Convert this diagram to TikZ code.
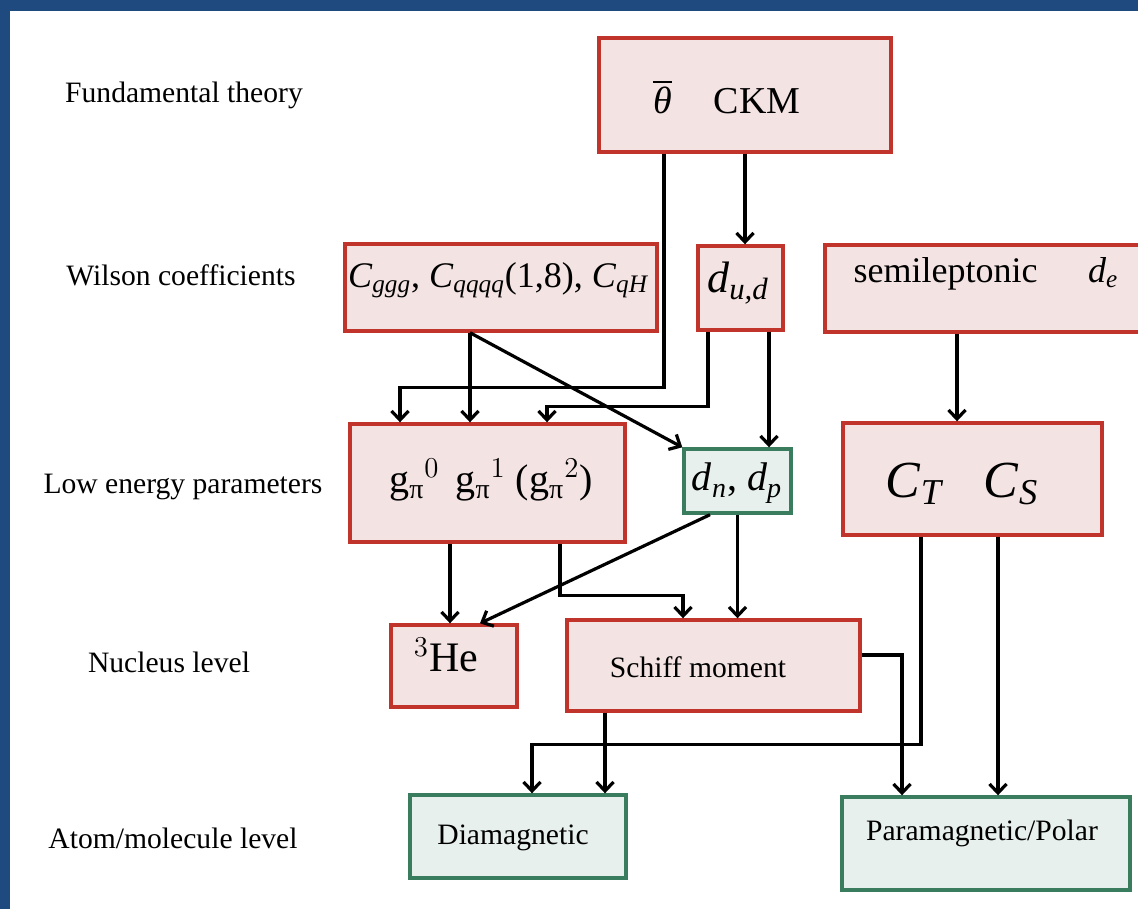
\documentclass[tikz,border=0pt]{standalone}
\usepackage{fontspec}
\usepackage{amsmath}
\setmainfont{Liberation Serif}
\usetikzlibrary{arrows.meta}

\definecolor{boxred}{RGB}{192,52,44}
\definecolor{boxpink}{RGB}{244,227,227}
\definecolor{boxgreen}{RGB}{58,124,94}
\definecolor{boxmint}{RGB}{231,240,237}
\definecolor{frameblue}{RGB}{31,74,128}

\newcommand{\fsz}[1]{\fontsize{#1}{#1}\selectfont}
\newcommand{\gp}[1]{g$_{\text{π}}{}^{#1}$}

\begin{document}
\begin{tikzpicture}[x=0.5pt,y=-0.5pt,
  redbox/.style={draw=boxred, fill=boxpink, line width=1.7pt, inner sep=0pt},
  greenbox/.style={draw=boxgreen, fill=boxmint, line width=1.7pt, inner sep=0pt},
  lvl/.style={font=\fsz{14.8}, inner sep=0pt},
  arr/.style={-{Straight Barb[length=4.5pt,width=8.5pt,line width=1.6pt]}, line width=1.6pt}]
\useasboundingbox (0,0) rectangle (1138,909);
\fill[frameblue] (0,0) rectangle (10,909);
\fill[frameblue] (0,0) rectangle (1138,11);

% level names
\node[lvl] (l1) at (184,95) {Fundamental theory};
\node[lvl] (l2) at (181,275) {Wilson coefficients};
\node[lvl] (l3) at (183,487) {Low energy parameters};
\node[lvl] (l4) at (169,662) {Nucleus level};
\node[lvl] (l5) at (173,838) {Atom/molecule level};

% boxes
\node[redbox, minimum width=146pt, minimum height=57pt] (ckm) at (745,95) {};
\node[redbox, minimum width=156pt, minimum height=43.5pt] (wil) at (501,287.5) {};
\node[redbox, minimum width=42.5pt, minimum height=42pt] (dud) at (740.5,288) {};
\node[redbox, minimum width=158.5pt, minimum height=43.5pt] (semi) at (983.5,288.5) {};
\node[redbox, minimum width=137.5pt, minimum height=59pt] (gpi) at (487.5,483) {};
\node[greenbox, minimum width=53.5pt, minimum height=32pt] (dnp) at (737.5,481) {};
\node[redbox, minimum width=129.5pt, minimum height=56pt] (cts) at (972.5,479) {};
\node[redbox, minimum width=63pt, minimum height=41pt] (he) at (454,666) {};
\node[redbox, minimum width=146.5pt, minimum height=45.5pt] (schiff) at (713.5,665.5) {};
\node[greenbox, minimum width=108pt, minimum height=41.5pt] (dia) at (518,836.5) {};
\node[greenbox, minimum width=144pt, minimum height=46.5pt] (para) at (986,843.5) {};

% box texts
\node[font=\fsz{19}] (ckm-t) at (727,97) {$\overline{\textit{θ}}$\hspace{1.1em}CKM};
\node[font=\fsz{18}] (wil-t) at (498,280) {\textit{C}$_{\textit{ggg}}$, \textit{C}$_{\textit{qqqq}}$(1,8), \textit{C}$_{\textit{qH}}$};
\node[font=\fsz{22}] (dud-t) at (738,283) {\textit{d}$_{\textit{u,d}}$};
\node[font=\fsz{18}] (semi-t) at (986,274) {semileptonic\hspace{1.4em}\textit{d}$_{\textit{e}}$};
\node[font=\fsz{20}] (gpi-t) at (491,480) {\gp{0}\hspace{0.4em}\gp{1} (\gp{2})};
\node[font=\fsz{20}] (dnp-t) at (737,483) {\textit{d}$_{\textit{n}}$, \textit{d}$_{\textit{p}}$};
\node[font=\fsz{26}] (cts-t) at (962,484) {\textit{C}$_{\textit{T}}$\hspace{0.8em}\textit{C}$_{\textit{S}}$};
\node[font=\fsz{21}] (he-t) at (446,655) {$^{3}$He};
\node[font=\fsz{14.8}] (schiff-t) at (698,667) {Schiff moment};
\node[font=\fsz{14.8}] (dia-t) at (513,838) {Diamagnetic};
\node[font=\fsz{14.8}] (para-t) at (982,833) {Paramagnetic/Polar};

% connectors
\coordinate (w1) at ([xshift=-15.5pt]wil.south);
\coordinate (u2) at ([xshift=14.25pt]dud.south);
\coordinate (s1) at ([xshift=-13.25pt]semi.south);
\coordinate (g1) at ([xshift=-18.75pt]gpi.south);
\coordinate (m1) at ([xshift=-54.25pt]schiff.south);
\coordinate (c2) at ([xshift=12.75pt]cts.south);

\draw[arr] ([xshift=-40.5pt]ckm.south) -- ++(0,234) -| ([xshift=-43.75pt]gpi.north);
\draw[arr] (ckm.south) -- (ckm.south |- dud.north);
\draw[arr] (w1) -- (w1 |- gpi.north);
\draw[arr] (w1) -- (dnp.north west);
\draw[arr] ([xshift=-16.25pt]dud.south) -- ++(0,75) -| ([xshift=29.75pt]gpi.north);
\draw[arr] (u2) -- (u2 |- dnp.north);
\draw[arr] (s1) -- (s1 |- cts.north);

\draw[arr] (g1) -- (g1 |- he.north);
\draw[arr] ([xshift=36.25pt]gpi.south) -- ++(0,52) -| ([xshift=-15.25pt]schiff.north);
\draw[arr] ([xshift=-13.75pt]dnp.south) -- ([xshift=13pt]he.north);
\draw[arr] (dnp.south) -- (dnp.south |- schiff.north);

\draw[arr] (m1) -- (m1 |- dia.north);
\draw[arr] ([xshift=-25.75pt]cts.south) -- ++(0,208) -| ([xshift=7pt]dia.north);
\draw[arr] ([yshift=5.25pt]schiff.east) -| ([xshift=-42pt]para.north);
\draw[arr] (c2) -- (c2 |- para.north);
\end{tikzpicture}
\end{document}
